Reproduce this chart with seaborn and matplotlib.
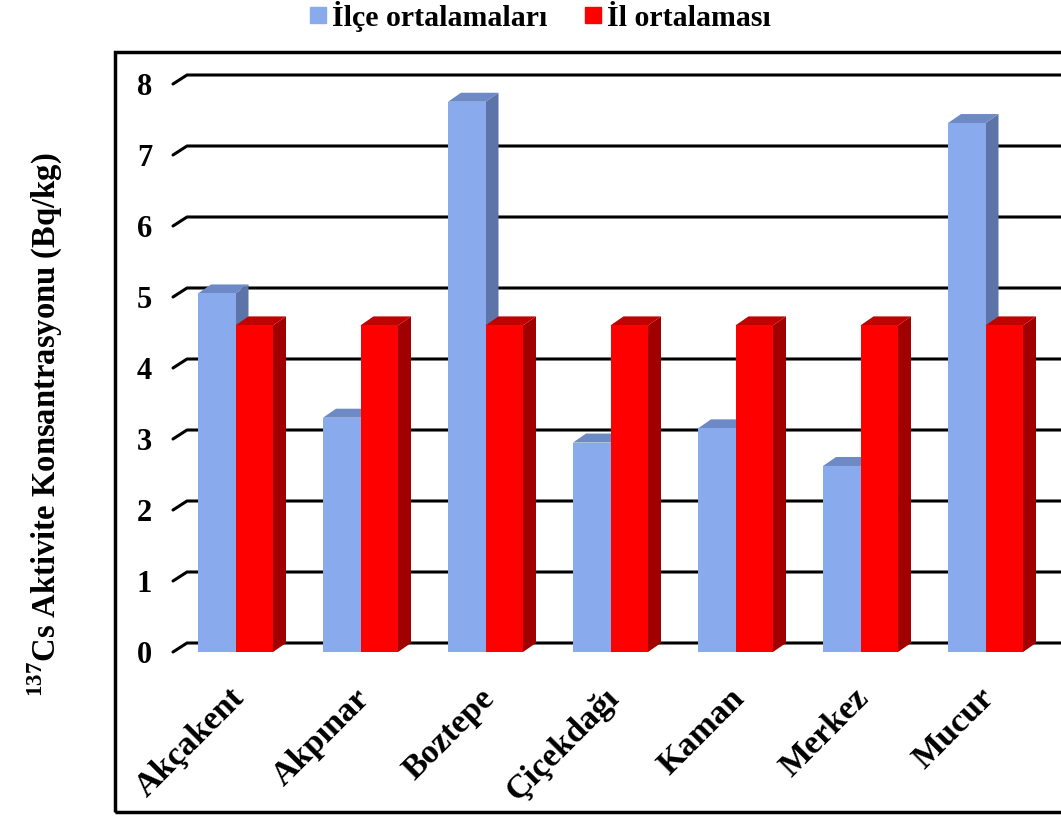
import numpy as np
import pandas as pd
import seaborn as sns
import matplotlib.pyplot as plt
from matplotlib import transforms
from matplotlib.patches import Polygon, Rectangle
from matplotlib.lines import Line2D

sns.set_style("white")
plt.rcParams['font.family'] = ['Liberation Serif', 'DejaVu Serif']
plt.rcParams['font.weight'] = 'bold'
plt.rcParams['text.color'] = 'black'
plt.rcParams['xtick.color'] = 'black'
plt.rcParams['ytick.color'] = 'black'
plt.rcParams['mathtext.fontset'] = 'custom'
plt.rcParams['mathtext.rm'] = 'Liberation Serif:bold'

# veriler
ilceler = ["Akçakent", "Akpınar", "Boztepe", "Çiçekdağı", "Kaman", "Merkez", "Mucur"]
ilce_ortalamalari = [5.05, 3.30, 7.75, 2.95, 3.15, 2.62, 7.45]
il_ortalamasi = [4.60, 4.60, 4.60, 4.60, 4.60, 4.60, 4.60]
seriler = ["İlçe ortalamaları", "İl ortalaması"]
y_ticks = [0, 1, 2, 3, 4, 5, 6, 7, 8]

on_renk = ["#8aaaee", "#ff0000"]
yan_renk = ["#5c74a8", "#a00000"]
ust_renk = ["#6e8ac6", "#c20000"]

df = pd.DataFrame({
    "ilce": ilceler * 2,
    "seri": [seriler[0]] * len(ilceler) + [seriler[1]] * len(ilceler),
    "deger": ilce_ortalamalari + il_ortalamasi,
})

W, H = 1061, 816
fig = plt.figure(figsize=(W / 100, H / 100), dpi=100)
ax = fig.add_axes([173 / W, (H - 652) / H, 875 / W, 568 / H])

sns.barplot(data=df, x="ilce", y="deger", hue="seri", hue_order=seriler,
            palette=on_renk, width=0.6, saturation=1, ax=ax, legend=False)
ax.set_xlim(-0.5, 6.5)
ax.set_ylim(0, 8)
ax.autoscale(False)

for s in ax.spines.values():
    s.set_visible(False)
ax.set_xlabel("")
ax.set_ylabel("")
ax.set_yticks(y_ticks)
ax.set_yticklabels([str(t) for t in y_ticks], fontsize=22, fontweight='bold')
ax.tick_params(axis='y', length=0, pad=15)
ax.tick_params(axis='x', length=0, pad=22)
ax.set_xticks(range(len(ilceler)))
ax.set_xticklabels(ilceler, rotation=45, ha='right', rotation_mode='anchor',
                   fontsize=24.5, fontweight='bold')
kaydir = transforms.ScaledTranslation(-7 / 100, 0, fig.dpi_scale_trans)
for lbl in ax.get_xticklabels():
    lbl.set_transform(lbl.get_transform() + kaydir)

# derinlik (piksel)
dx, dy = 13, 9
ident = transforms.IdentityTransform()

# arka duvar izgara cizgileri
for t in y_ticks:
    fx, fy = ax.transData.transform((ax.get_xlim()[0], t))
    ln = Line2D([fx, fx + 14, W + 10], [fy, fy + dy, fy + dy], transform=ident,
                color='black', lw=2.2, zorder=0.5, clip_on=False)
    ax.add_artist(ln)

# 3B gorunum icin yan ve ust yuzler
bars = [p for p in ax.patches if p.get_height() > 0]
bars = sorted(bars, key=lambda p: p.get_x())
for k, p in enumerate(bars):
    ci = 0 if p.get_facecolor()[2] > 0.5 else 1
    p.set_zorder(3 + 2 * k)
    p.set_edgecolor('none')
    x0, x1 = p.get_x(), p.get_x() + p.get_width()
    (ax0, ay0), (ax1, ay1) = ax.transData.transform([(x0, 0), (x1, p.get_height())])
    side = Polygon([(ax1, ay0), (ax1 + dx, ay0 + dy), (ax1 + dx, ay1 + dy), (ax1, ay1)],
                   closed=True, transform=ident, facecolor=yan_renk[ci],
                   edgecolor='none', zorder=2 + 2 * k, clip_on=False)
    top = Polygon([(ax0, ay1), (ax1, ay1), (ax1 + dx, ay1 + dy), (ax0 + dx, ay1 + dy)],
                  closed=True, transform=ident, facecolor=ust_renk[ci],
                  edgecolor='none', zorder=2 + 2 * k, clip_on=False)
    ax.add_artist(side)
    ax.add_artist(top)
    p.set_clip_on(False)

fig.text(45 / W, 1 - 425 / H, r"$^{\mathrm{137}}$Cs Aktivite Konsantrasyonu (Bq/kg)",
         rotation=90, ha='center', va='center', fontsize=23.5, fontweight='bold')

handles = [Line2D([], [], marker='s', linestyle='', color=c, markersize=11.5) for c in on_renk]
fig.legend(handles, seriler, loc='center', bbox_to_anchor=(540 / W, 1 - 16 / H),
           ncol=2, frameon=False, handlelength=0.6, handletextpad=0.15,
           columnspacing=1.25, prop={'size': 21.5, 'weight': 'bold'})

fig.add_artist(Rectangle((115 / W, 4 / H), 1.0, (812 - 52) / H, transform=fig.transFigure,
                         fill=False, edgecolor='black', lw=2.5))

plt.savefig("out.png", dpi=100)
